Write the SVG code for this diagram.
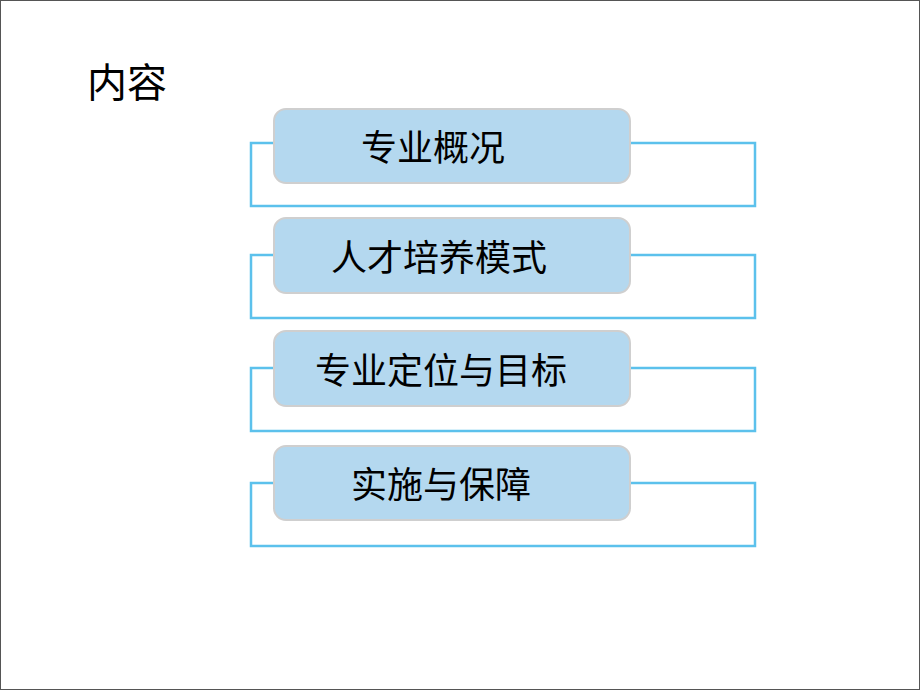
<svg xmlns="http://www.w3.org/2000/svg" width="920" height="690" viewBox="0 0 920 690">
<style>
.br{fill:none;stroke:#5cc1ec;stroke-width:2.5}
.bx{fill:#b4d8ef;stroke:#cfcfcf;stroke-width:2}
.t{font-family:"Noto Sans CJK SC","Noto Sans",sans-serif;font-size:36px;fill:#000;text-anchor:middle}
</style>
<rect x="0.5" y="0.5" width="919" height="689" fill="#fff" stroke="#555" stroke-width="1"/>
<text x="87" y="97" style="font-family:'Noto Sans CJK SC','Noto Sans',sans-serif;font-size:40px;fill:#000">内容</text>
<g id="connectors">
<path class="br" d="M274,143 H251 V206 H755 V143 H630"/>
<path class="br" d="M274,255 H251 V318 H755 V255 H630"/>
<path class="br" d="M274,368 H251 V431 H755 V368 H630"/>
<path class="br" d="M274,483 H251 V546 H755 V483 H630"/>
</g>
<g id="node1"><rect class="bx" x="274" y="109" width="356" height="74" rx="12"/><text class="t" x="433" y="161">专业概况</text></g>
<g id="node2"><rect class="bx" x="274" y="218" width="356" height="75" rx="12"/><text class="t" x="439" y="271">人才培养模式</text></g>
<g id="node3"><rect class="bx" x="274" y="331" width="356" height="75" rx="12"/><text class="t" x="441" y="384">专业定位与目标</text></g>
<g id="node4"><rect class="bx" x="274" y="446" width="356" height="74" rx="12"/><text class="t" x="441" y="498">实施与保障</text></g>
</svg>
